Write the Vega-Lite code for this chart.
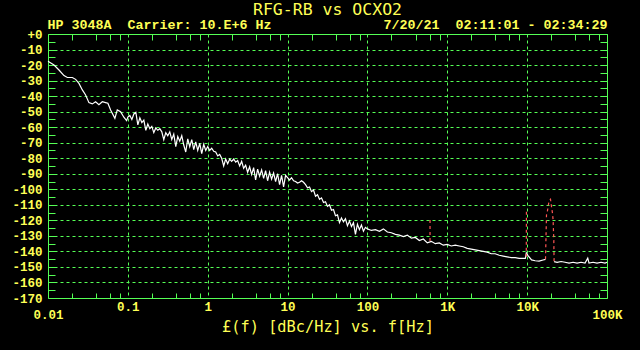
{
  "$schema": "https://vega.github.io/schema/vega-lite/v6.json",
  "width": 559,
  "height": 264,
  "autosize": {"type": "none"},
  "padding": {"left": 48, "top": 34, "right": 33, "bottom": 52},
  "background": "#000000",
  "title": {
    "text": "RFG-RB vs OCXO2",
    "subtitle": "HP 3048A\u00a0\u00a0Carrier:\u00a010.E+6\u00a0Hz\u00a0\u00a0\u00a0\u00a0\u00a0\u00a0\u00a0\u00a0\u00a0\u00a0\u00a0\u00a0\u00a0\u00a07/20/21\u00a0\u00a002:11:01\u00a0-\u00a002:34:29",
    "anchor": "middle",
    "font": "DejaVu Sans Mono",
    "fontSize": 16.5,
    "fontWeight": "normal",
    "color": "#ffff55",
    "subtitleFont": "Liberation Mono",
    "subtitleFontSize": 13.33,
    "subtitleFontWeight": "bold",
    "subtitleColor": "#ffff55",
    "offset": -3.5,
    "subtitlePadding": 0
  },
  "datasets": {
    "trace": [
      {"f": 0.01, "db": -17.5, "s": 1}, {"f": 0.01189, "db": -20, "s": 1}, {"f": 0.01372, "db": -23.2, "s": 1}, {"f": 0.01585, "db": -26.8, "s": 1},
      {"f": 0.01748, "db": -28, "s": 1}, {"f": 0.02018, "db": -28, "s": 1}, {"f": 0.02218, "db": -29.2, "s": 1}, {"f": 0.02441, "db": -31.8, "s": 1},
      {"f": 0.02692, "db": -36, "s": 1}, {"f": 0.02958, "db": -39.3, "s": 1}, {"f": 0.03255, "db": -44.2, "s": 1}, {"f": 0.03589, "db": -45, "s": 1},
      {"f": 0.03945, "db": -43.6, "s": 1}, {"f": 0.0434, "db": -45.5, "s": 1}, {"f": 0.04786, "db": -43.6, "s": 1}, {"f": 0.0526, "db": -44.2, "s": 1},
      {"f": 0.05623, "db": -44.6, "s": 1}, {"f": 0.06081, "db": -48.9, "s": 1}, {"f": 0.06879, "db": -54.3, "s": 1}, {"f": 0.07372, "db": -48.9, "s": 1},
      {"f": 0.0811, "db": -50, "s": 1}, {"f": 0.08913, "db": -53.6, "s": 1}, {"f": 0.0964, "db": -55.8, "s": 1},
      {"f": 0.1, "db": -53.5, "s": 1}, {"f": 0.1059, "db": -52.5, "s": 1}, {"f": 0.1122, "db": -55, "s": 1}, {"f": 0.1189, "db": -51.5, "s": 1},
      {"f": 0.1259, "db": -50.5, "s": 1}, {"f": 0.1334, "db": -58.5, "s": 1}, {"f": 0.1413, "db": -54, "s": 1}, {"f": 0.1496, "db": -57, "s": 1},
      {"f": 0.1585, "db": -55.5, "s": 1}, {"f": 0.1679, "db": -62, "s": 1}, {"f": 0.1778, "db": -58, "s": 1}, {"f": 0.1884, "db": -61, "s": 1},
      {"f": 0.1995, "db": -59.5, "s": 1}, {"f": 0.2113, "db": -63.5, "s": 1}, {"f": 0.2239, "db": -60.5, "s": 1}, {"f": 0.2371, "db": -62, "s": 1},
      {"f": 0.2512, "db": -61, "s": 1}, {"f": 0.2661, "db": -63, "s": 1}, {"f": 0.2818, "db": -68, "s": 1}, {"f": 0.2985, "db": -63.5, "s": 1},
      {"f": 0.3162, "db": -65.5, "s": 1}, {"f": 0.335, "db": -63, "s": 1}, {"f": 0.3548, "db": -68, "s": 1}, {"f": 0.3758, "db": -64.5, "s": 1},
      {"f": 0.3981, "db": -72.5, "s": 1}, {"f": 0.4217, "db": -66, "s": 1}, {"f": 0.4467, "db": -69, "s": 1}, {"f": 0.4732, "db": -65.5, "s": 1},
      {"f": 0.5012, "db": -71.5, "s": 1}, {"f": 0.5309, "db": -76, "s": 1}, {"f": 0.5623, "db": -67.5, "s": 1}, {"f": 0.5957, "db": -72.5, "s": 1},
      {"f": 0.631, "db": -68, "s": 1}, {"f": 0.6683, "db": -74.5, "s": 1}, {"f": 0.7079, "db": -69.5, "s": 1}, {"f": 0.7499, "db": -75, "s": 1},
      {"f": 0.7943, "db": -70.5, "s": 1}, {"f": 0.8414, "db": -77, "s": 1}, {"f": 0.8913, "db": -71, "s": 1}, {"f": 0.9441, "db": -75, "s": 1},
      {"f": 1, "db": -72.5, "s": 1}, {"f": 1.059, "db": -75, "s": 1}, {"f": 1.122, "db": -73.5, "s": 1}, {"f": 1.189, "db": -75.5, "s": 1},
      {"f": 1.259, "db": -76, "s": 1}, {"f": 1.334, "db": -78.5, "s": 1}, {"f": 1.413, "db": -77.5, "s": 1}, {"f": 1.496, "db": -80, "s": 1},
      {"f": 1.585, "db": -85, "s": 1}, {"f": 1.679, "db": -80.5, "s": 1}, {"f": 1.778, "db": -83.5, "s": 1}, {"f": 1.884, "db": -80.5, "s": 1},
      {"f": 1.995, "db": -82, "s": 1}, {"f": 2.113, "db": -80.5, "s": 1}, {"f": 2.239, "db": -82.5, "s": 1}, {"f": 2.371, "db": -81.5, "s": 1},
      {"f": 2.512, "db": -85, "s": 1}, {"f": 2.661, "db": -82, "s": 1}, {"f": 2.818, "db": -86.5, "s": 1}, {"f": 2.985, "db": -84.5, "s": 1},
      {"f": 3.162, "db": -89, "s": 1}, {"f": 3.35, "db": -85.5, "s": 1}, {"f": 3.548, "db": -90.5, "s": 1}, {"f": 3.758, "db": -86, "s": 1},
      {"f": 3.981, "db": -94, "s": 1}, {"f": 4.217, "db": -87, "s": 1}, {"f": 4.467, "db": -91.5, "s": 1}, {"f": 4.732, "db": -87.5, "s": 1},
      {"f": 5.012, "db": -93, "s": 1}, {"f": 5.309, "db": -88, "s": 1}, {"f": 5.623, "db": -94.5, "s": 1}, {"f": 5.957, "db": -89, "s": 1},
      {"f": 6.31, "db": -93.5, "s": 1}, {"f": 6.683, "db": -89.5, "s": 1}, {"f": 7.079, "db": -95, "s": 1}, {"f": 7.499, "db": -90, "s": 1},
      {"f": 7.943, "db": -97, "s": 1}, {"f": 8.414, "db": -91, "s": 1}, {"f": 8.913, "db": -98.5, "s": 1}, {"f": 9.441, "db": -91, "s": 1},
      {"f": 10, "db": -92.5, "s": 1}, {"f": 10.59, "db": -94, "s": 1}, {"f": 11.22, "db": -92.5, "s": 1}, {"f": 11.89, "db": -94.5, "s": 1},
      {"f": 12.59, "db": -95, "s": 1}, {"f": 13.34, "db": -96, "s": 1}, {"f": 14.13, "db": -95.5, "s": 1}, {"f": 14.96, "db": -94.5, "s": 1},
      {"f": 15.85, "db": -95.5, "s": 1}, {"f": 16.79, "db": -97, "s": 1}, {"f": 17.78, "db": -99, "s": 1}, {"f": 18.84, "db": -98.5, "s": 1},
      {"f": 19.95, "db": -101.5, "s": 1}, {"f": 21.13, "db": -100.5, "s": 1}, {"f": 22.39, "db": -104.5, "s": 1}, {"f": 23.71, "db": -103.5, "s": 1},
      {"f": 25.12, "db": -106.5, "s": 1}, {"f": 26.61, "db": -105.5, "s": 1}, {"f": 28.18, "db": -108.5, "s": 1}, {"f": 29.85, "db": -108, "s": 1},
      {"f": 31.62, "db": -111, "s": 1}, {"f": 33.5, "db": -110, "s": 1}, {"f": 35.48, "db": -113.5, "s": 1}, {"f": 37.58, "db": -113, "s": 1},
      {"f": 39.81, "db": -117, "s": 1}, {"f": 42.17, "db": -116.5, "s": 1}, {"f": 44.67, "db": -121.5, "s": 1}, {"f": 47.32, "db": -118.5, "s": 1},
      {"f": 50.12, "db": -121, "s": 1}, {"f": 53.09, "db": -119, "s": 1}, {"f": 56.23, "db": -123.5, "s": 1}, {"f": 59.57, "db": -120.5, "s": 1},
      {"f": 63.1, "db": -124, "s": 1}, {"f": 66.83, "db": -121.5, "s": 1}, {"f": 70.79, "db": -129, "s": 1}, {"f": 74.99, "db": -122.5, "s": 1},
      {"f": 79.43, "db": -126, "s": 1}, {"f": 84.14, "db": -123, "s": 1}, {"f": 89.13, "db": -127, "s": 1}, {"f": 94.41, "db": -124.5, "s": 1},
      {"f": 100, "db": -125.5, "s": 1}, {"f": 112.2, "db": -126.5, "s": 1}, {"f": 125.9, "db": -126, "s": 1}, {"f": 141.3, "db": -127, "s": 1},
      {"f": 158.5, "db": -125.5, "s": 1}, {"f": 177.8, "db": -127.5, "s": 1}, {"f": 199.5, "db": -128, "s": 1}, {"f": 223.9, "db": -129, "s": 1},
      {"f": 251.2, "db": -129.5, "s": 1}, {"f": 281.8, "db": -130.5, "s": 1}, {"f": 316.2, "db": -129.5, "s": 1}, {"f": 354.8, "db": -131.5, "s": 1},
      {"f": 398.1, "db": -131, "s": 1}, {"f": 446.7, "db": -133, "s": 1}, {"f": 501.2, "db": -132, "s": 1}, {"f": 562.3, "db": -134.5, "s": 1},
      {"f": 631, "db": -133.5, "s": 1}, {"f": 707.9, "db": -135, "s": 1}, {"f": 794.3, "db": -134.5, "s": 1}, {"f": 891.3, "db": -136, "s": 1},
      {"f": 1000, "db": -135.5, "s": 1}, {"f": 1122, "db": -136.5, "s": 1}, {"f": 1259, "db": -136, "s": 1}, {"f": 1413, "db": -136.5, "s": 1},
      {"f": 1585, "db": -137, "s": 1}, {"f": 1778, "db": -138, "s": 1}, {"f": 1995, "db": -138.5, "s": 1}, {"f": 2239, "db": -139, "s": 1},
      {"f": 2512, "db": -139.5, "s": 1}, {"f": 2818, "db": -140, "s": 1}, {"f": 3162, "db": -140.5, "s": 1}, {"f": 3548, "db": -141.5, "s": 1},
      {"f": 3981, "db": -141.5, "s": 1}, {"f": 4467, "db": -142.5, "s": 1}, {"f": 5012, "db": -143, "s": 1}, {"f": 5623, "db": -143.5, "s": 1},
      {"f": 6310, "db": -144, "s": 1}, {"f": 7079, "db": -144, "s": 1}, {"f": 7943, "db": -144.5, "s": 1}, {"f": 8913, "db": -144.5, "s": 1},
      {"f": 9495, "db": -144.5, "s": 1}, {"f": 9772, "db": -141, "s": 1}, {"f": 10204, "db": -142.5, "s": 1}, {"f": 11350, "db": -145.5, "s": 1},
      {"f": 12589, "db": -146, "s": 1}, {"f": 14125, "db": -146.3, "s": 1}, {"f": 15849, "db": -145.5, "s": 1}, {"f": 16982, "db": -145.1, "s": 1},
      {"f": 21752, "db": -146.6, "s": 2}, {"f": 23714, "db": -147, "s": 2}, {"f": 26607, "db": -146.5, "s": 2}, {"f": 29854, "db": -147, "s": 2},
      {"f": 33497, "db": -147.5, "s": 2}, {"f": 37584, "db": -147, "s": 2}, {"f": 42170, "db": -147.5, "s": 2}, {"f": 47315, "db": -147, "s": 2},
      {"f": 53088, "db": -147.5, "s": 2}, {"f": 57412, "db": -144.3, "s": 2}, {"f": 59566, "db": -147.5, "s": 2}, {"f": 66834, "db": -147, "s": 2},
      {"f": 74989, "db": -147.5, "s": 2}, {"f": 84140, "db": -147, "s": 2}, {"f": 94406, "db": -147.5, "s": 2}, {"f": 100000, "db": -147, "s": 2}
    ],
    "spur": [
      {"f": 608, "db": -119.8, "id": 1, "o": 1}, {"f": 608, "db": -133.7, "id": 1, "o": 2},
      {"f": 9800, "db": -114.4, "id": 2, "o": 1}, {"f": 9750, "db": -143.4, "id": 2, "o": 2},
      {"f": 16982, "db": -145.1, "id": 3, "o": 1}, {"f": 17474, "db": -116.5, "id": 3, "o": 2}, {"f": 17989, "db": -113.7, "id": 3, "o": 3},
      {"f": 18302, "db": -111.2, "id": 3, "o": 4}, {"f": 18836, "db": -107.3, "id": 3, "o": 5}, {"f": 19611, "db": -106.4, "id": 3, "o": 6},
      {"f": 20184, "db": -111.2, "id": 3, "o": 7}, {"f": 20774, "db": -115.5, "id": 3, "o": 8}, {"f": 21135, "db": -119.8, "id": 3, "o": 9},
      {"f": 21571, "db": -132.6, "id": 3, "o": 10}, {"f": 21752, "db": -146.6, "id": 3, "o": 11}
    ]
  },
  "layer": [
    {
      "data": {"name": "trace"},
      "mark": {"type": "line", "color": "#ffffff", "strokeWidth": 1.2},
      "encoding": {
        "x": {
          "field": "f", "type": "quantitative",
          "scale": {"type": "log", "domain": [0.01, 100000], "nice": false},
          "axis": {
            "orient": "bottom",
            "values": [0.01, 0.1, 1, 10, 100, 1000, 10000, 100000],
            "labelExpr": "datum.value >= 1000 ? (datum.value / 1000) + 'K' : '' + datum.value",
            "ticks": false, "grid": true, "domain": false,
            "labelFlush": false, "labelOverlap": false, "labelBound": false,
            "labelPadding": 2,
            "labelLineHeight": 29,
            "labelBaseline": {"condition": {"test": "datum.value == 0.01 || datum.value == 100000", "value": "line-top"}, "value": "top"},
            "title": "£(f) [dBc/Hz] vs. f[Hz]",
            "titleBaseline": "alphabetic",
            "titleY": 33.5
          }
        },
        "y": {
          "field": "db", "type": "quantitative",
          "scale": {"domain": [-170, 0], "nice": false, "zero": false},
          "axis": {
            "orient": "left",
            "values": [-170, -160, -150, -140, -130, -120, -110, -100, -90, -80, -70, -60, -50, -40, -30, -20, -10, 0],
            "labelExpr": "datum.value == 0 ? '+0' : '-' + abs(datum.value)",
            "ticks": false, "grid": true, "domain": false,
            "labelPadding": 6, "labelOverlap": false, "labelBound": false,
            "labelBaseline": "middle",
            "title": null
          }
        },
        "detail": {"field": "s"}
      }
    },
    {
      "data": {"name": "trace"},
      "mark": {"type": "line", "opacity": 0},
      "encoding": {
        "x": {
          "field": "f", "type": "quantitative",
          "scale": {"type": "log", "domain": [0.01, 100000], "nice": false},
          "axis": {
            "orient": "bottom",
            "values": [0.02, 0.04, 0.06, 0.08, 0.2, 0.4, 0.6, 0.8, 2, 4, 6, 8, 20, 40, 60, 80, 200, 400, 600, 800, 2000, 4000, 6000, 8000, 20000, 40000, 60000, 80000],
            "labels": false, "ticks": true, "tickSize": -5, "grid": false, "domain": false, "title": null
          }
        },
        "y": {
          "field": "db", "type": "quantitative",
          "scale": {"domain": [-170, 0], "nice": false, "zero": false},
          "axis": {
            "orient": "left",
            "values": [-165, -160, -155, -150, -145, -140, -135, -130, -125, -120, -115, -110, -105, -100, -95, -90, -85, -80, -75, -70, -65, -60, -55, -50, -45, -40, -35, -30, -25, -20, -15, -10, -5],
            "labels": false, "ticks": true, "tickSize": -7, "grid": false, "domain": false, "title": null
          }
        },
        "detail": {"field": "s"}
      }
    },
    {
      "data": {"name": "spur"},
      "mark": {"type": "line", "color": "#ff5555", "strokeWidth": 1.2, "strokeDash": [3, 3]},
      "encoding": {
        "x": {
          "field": "f", "type": "quantitative",
          "scale": {"type": "log", "domain": [0.01, 100000], "nice": false},
          "axis": {
            "orient": "top",
            "values": [0.02, 0.04, 0.06, 0.08, 0.2, 0.4, 0.6, 0.8, 2, 4, 6, 8, 20, 40, 60, 80, 200, 400, 600, 800, 2000, 4000, 6000, 8000, 20000, 40000, 60000, 80000],
            "labels": false, "ticks": true, "tickSize": -6, "grid": false, "domain": false, "title": null
          }
        },
        "y": {
          "field": "db", "type": "quantitative",
          "scale": {"domain": [-170, 0], "nice": false, "zero": false},
          "axis": {
            "orient": "right",
            "values": [-165, -160, -155, -150, -145, -140, -135, -130, -125, -120, -115, -110, -105, -100, -95, -90, -85, -80, -75, -70, -65, -60, -55, -50, -45, -40, -35, -30, -25, -20, -15, -10, -5],
            "labels": false, "ticks": true, "tickSize": -7, "grid": false, "domain": false, "title": null
          }
        },
        "detail": {"field": "id"},
        "order": {"field": "o"}
      }
    }
  ],
  "resolve": {"axis": {"x": "independent", "y": "independent"}},
  "config": {
    "view": {"stroke": "#55ff55", "strokeWidth": 1},
    "axis": {
      "labelColor": "#ffff55",
      "labelFont": "Liberation Mono",
      "labelFontWeight": "bold",
      "labelFontSize": 12.5,
      "titleColor": "#ffff55",
      "titleFont": "DejaVu Sans Mono",
      "titleFontWeight": "normal",
      "titleFontSize": 15.3,
      "tickColor": "#55ff55",
      "tickWidth": 1,
      "gridColor": "#55ff55",
      "gridDash": [3, 3],
      "gridOpacity": 1,
      "gridWidth": 1
    }
  }
}
